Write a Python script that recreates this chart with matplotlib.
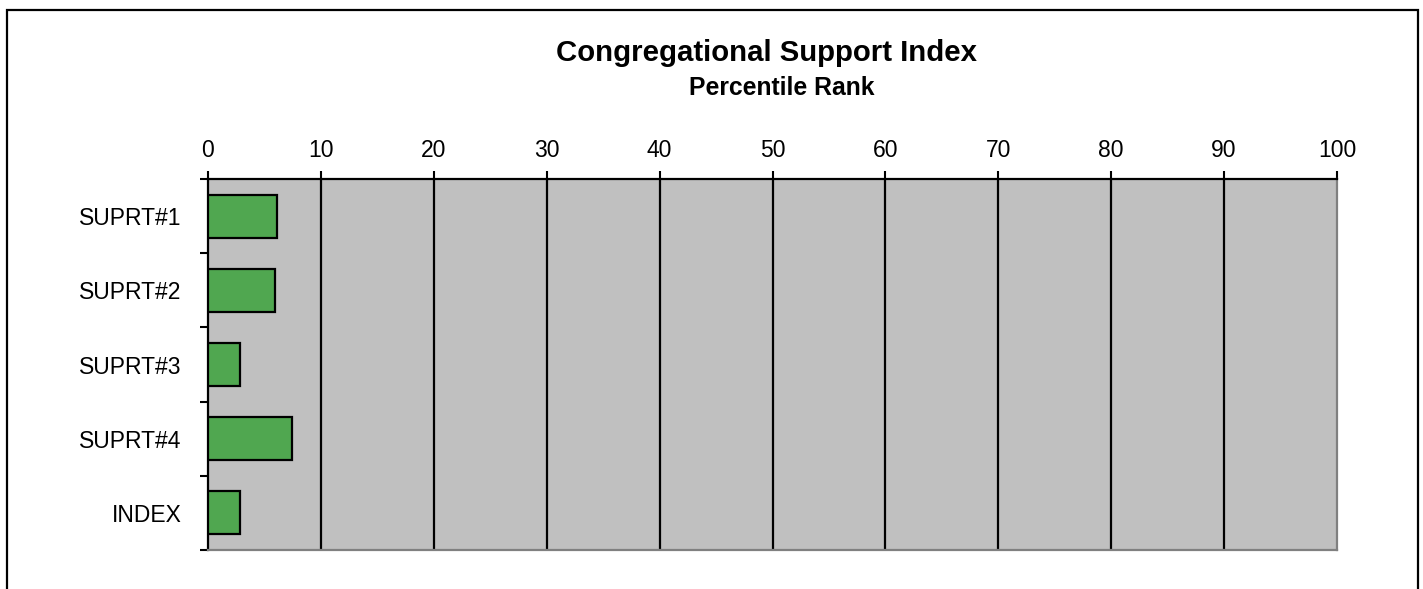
import matplotlib
matplotlib.use("Agg")
import matplotlib.pyplot as plt
from matplotlib.patches import Rectangle
import numpy as np

plt.rcParams['font.family'] = ['Liberation Sans', 'DejaVu Sans']

categories = ["SUPRT#1", "SUPRT#2", "SUPRT#3", "SUPRT#4", "INDEX"]
values = [6.1, 5.9, 2.8, 7.4, 2.8]
xticks = [0, 10, 20, 30, 40, 50, 60, 70, 80, 90, 100]
title = "Congregational Support Index"
subtitle = "Percentile Rank"

W, H = 1423, 589
fig = plt.figure(figsize=(W / 100, H / 100), dpi=100)
ax = fig.add_axes([208 / W, 1 - 550 / H, (1337 - 208) / W, (550 - 179) / H])
ax.set_facecolor('#C0C0C0')

y = np.arange(len(categories))
ax.barh(y, values, height=0.58, color='#50A750', edgecolor='black', linewidth=1.6, zorder=3)

ax.set_xlim(0, 100)
ax.set_ylim(len(categories) - 0.5, -0.5)
ax.set_xticks(xticks)
ax.xaxis.tick_top()
ax.tick_params(axis='x', direction='out', length=6, width=1.5, labelsize=16.5, pad=6)
for xv in xticks[1:-1]:
    ax.axvline(xv, color='black', linewidth=1.6, zorder=2)

ax.set_yticks(np.arange(len(categories) + 1) - 0.5)
ax.set_yticklabels([])
ax.set_yticks(y, minor=True)
ax.set_yticklabels(categories, minor=True)
ax.tick_params(axis='y', which='major', direction='out', length=6, width=1.5)
ax.tick_params(axis='y', which='minor', length=0, labelsize=16.5, pad=19)

for side in ['left', 'top']:
    ax.spines[side].set_color('black')
    ax.spines[side].set_linewidth(1.6)
for side in ['right', 'bottom']:
    ax.spines[side].set_color('#808080')
    ax.spines[side].set_linewidth(1.6)

fig.text(766 / W, 1 - 53 / H, title, ha='center', va='center', fontsize=21.2, fontweight='bold')
fig.text(782 / W, 1 - 88 / H, subtitle, ha='center', va='center', fontsize=17.8, fontweight='bold')

fig.patches.append(Rectangle((7 / W, -0.1), (1418 - 7) / W, 1.1 - 10 / H,
                             transform=fig.transFigure, fill=False, edgecolor='black',
                             linewidth=1.6, figure=fig))

fig.savefig('out.png', dpi=100)
